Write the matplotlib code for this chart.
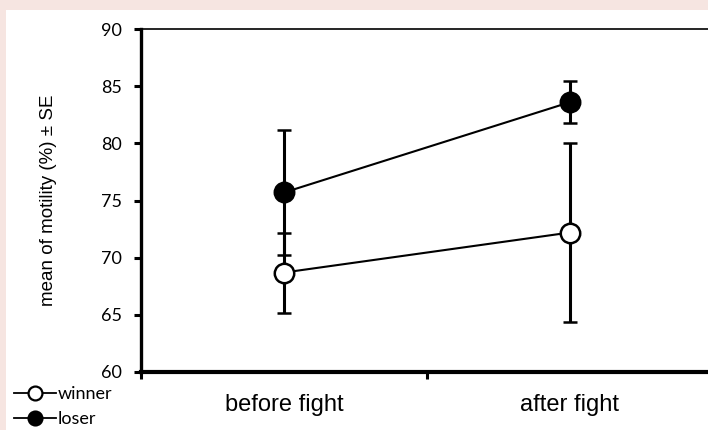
import matplotlib.pyplot as plt
from matplotlib.lines import Line2D
from matplotlib.patches import Rectangle

# data
groups = ['before fight', 'after fight']
winner_mean = [68.7, 72.2]
winner_se = [3.5, 7.8]
loser_mean = [75.7, 83.6]
loser_se = [5.5, 1.85]

fig = plt.figure(figsize=(7.08, 4.3), dpi=100)
fig.patch.set_facecolor('#f6e5e1')
# white panel behind the chart
fig.add_artist(Rectangle((6 / 708, 0), 1, 1 - 10 / 430, transform=fig.transFigure,
                         facecolor='white', edgecolor='none', zorder=0))

ax = fig.add_axes([141 / 708, 58 / 430, 572 / 708, 343 / 430])
ax.set_facecolor('none')

xpos = [0.5, 1.5]
ax.errorbar(xpos, loser_mean, yerr=loser_se, color='black', lw=1.5, elinewidth=2.2,
            capsize=5, capthick=2.2, marker='o', ms=14, mfc='black', mec='black',
            mew=1.8, zorder=3)
ax.errorbar(xpos, winner_mean, yerr=winner_se, color='black', lw=1.5, elinewidth=2.2,
            capsize=5, capthick=2.2, marker='o', ms=14, mfc='white', mec='black',
            mew=1.8, zorder=4)

ax.set_xlim(0, 2)
ax.set_ylim(60, 90)
ax.set_yticks(range(60, 91, 5))
ax.set_xticks([0, 1, 2])
ax.set_xticklabels([])
ax.set_xticks(xpos, minor=True)
ax.set_xticklabels(groups, minor=True, fontsize=17, family='Liberation Sans')
ax.tick_params(axis='x', which='minor', length=0, pad=16)
ax.tick_params(axis='x', which='major', length=5, width=2.2, direction='out')
ax.tick_params(axis='y', length=5, width=2.2, direction='out', pad=9, labelsize=13)
for t in ax.get_yticklabels():
    t.set_family('Lato')

ax.spines['left'].set_linewidth(2.4)
ax.spines['bottom'].set_linewidth(3)
ax.spines['top'].set_linewidth(1.2)
ax.spines['right'].set_visible(False)

ax.set_ylabel('mean of motility (%) \u00b1 SE', fontsize=13.5, family='Liberation Sans',
              labelpad=31)

handles = [
    Line2D([], [], color='black', lw=1.3, marker='o', ms=10, mfc='white', mec='black', mew=1.6),
    Line2D([], [], color='black', lw=1.3, marker='o', ms=10, mfc='black', mec='black', mew=1.6),
]
fig.legend(handles, ['winner', 'loser'], loc='upper left', bbox_to_anchor=(14 / 708, 44 / 430),
           frameon=False, prop={'family': 'Lato', 'size': 13},
           handlelength=2.3, handletextpad=0.1, labelspacing=0.5, borderpad=0, borderaxespad=0)

fig.savefig('out.png', dpi=100)
